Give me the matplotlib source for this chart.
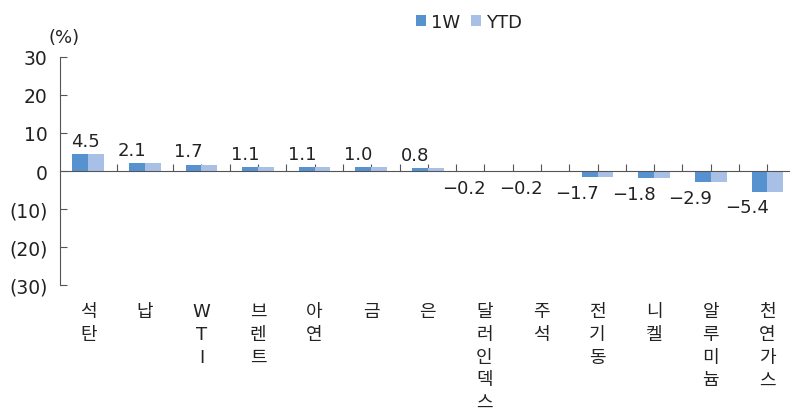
import numpy as np
import matplotlib.pyplot as plt
from matplotlib.ticker import FixedLocator, FuncFormatter

plt.rcParams['font.family'] = ['DejaVu Sans', 'Noto Sans CJK KR']

# data
categories = ['석탄', '납', 'WTI', '브렌트', '아연', '금', '은',
              '달러인덱스', '주석', '전기동', '니켈', '알루미늄', '천연가스']
w1 = [4.5, 2.1, 1.7, 1.1, 1.1, 1.0, 0.8, -0.2, -0.2, -1.7, -1.8, -2.9, -5.4]
ytd = [4.5, 2.1, 1.7, 1.1, 1.1, 1.0, 0.8, -0.2, -0.2, -1.7, -1.8, -2.9, -5.4]
labels = ['4.5', '2.1', '1.7', '1.1', '1.1', '1.0', '0.8',
          '\u22120.2', '\u22120.2', '\u22121.7', '\u22121.8', '\u22122.9', '\u22125.4']

c_w1 = '#5592cf'
c_ytd = '#a9c0e6'
txt = '#222222'

fig = plt.figure(figsize=(7.9, 4.14), dpi=100)
ax = fig.add_axes([0.0759, 0.309, 0.9241, 0.551])

x = np.arange(len(categories))
bw = 0.28
ax.bar(x - bw / 2, w1, bw, color=c_w1, label='1W', zorder=2)
ax.bar(x + bw / 2, ytd, bw, color=c_ytd, label='YTD', zorder=2)

ax.set_xlim(-0.5, 12.4)
ax.set_ylim(-30, 30)

# spines
for s in ['top', 'right']:
    ax.spines[s].set_visible(False)
ax.spines['left'].set_color('#555555')
ax.spines['bottom'].set_position(('data', 0))
ax.spines['bottom'].set_color('#555555')
ax.spines['bottom'].set_zorder(3)

ax.xaxis.set_major_locator(FixedLocator(np.arange(0, 13, 0.5)))
ax.tick_params(axis='x', direction='in', length=5, color='#555555', labelbottom=False)
ax.yaxis.set_major_locator(FixedLocator([-30, -20, -10, 0, 10, 20, 30]))
ax.yaxis.set_major_formatter(FuncFormatter(lambda v, p: f'({abs(int(v))})' if v < 0 else f'{int(v)}'))
ax.tick_params(axis='y', direction='in', length=5, color='#555555', labelsize=13.5,
               labelcolor=txt, pad=9)

# value labels
for i, (v, lab) in enumerate(zip(w1, labels)):
    if v >= 0:
        ax.annotate(lab, (i, v), xytext=(1 if i else 8, 3), textcoords='offset points',
                    ha='right', va='bottom', fontsize=13, color=txt)
    else:
        ax.annotate(lab, (i, v), xytext=(1, -5), textcoords='offset points',
                    ha='right', va='top', fontsize=13, color=txt)

# category labels, stacked vertically
for i, c in enumerate(categories):
    ax.annotate('\n'.join(c), (i, -30), xytext=(0, -12), textcoords='offset points',
                ha='center', va='top', fontsize=13, color=txt, linespacing=1.35,
                annotation_clip=False)

fig.text(0.062, 0.895, '(%)', fontsize=13, color=txt)

ax.legend(loc='upper left', bbox_to_anchor=(0.465, 1.265), ncol=2, frameon=False,
          fontsize=13, handlelength=0.55, handleheight=0.55, handletextpad=0.3,
          columnspacing=0.6, labelcolor=txt)

fig.savefig('out.png', dpi=100)
